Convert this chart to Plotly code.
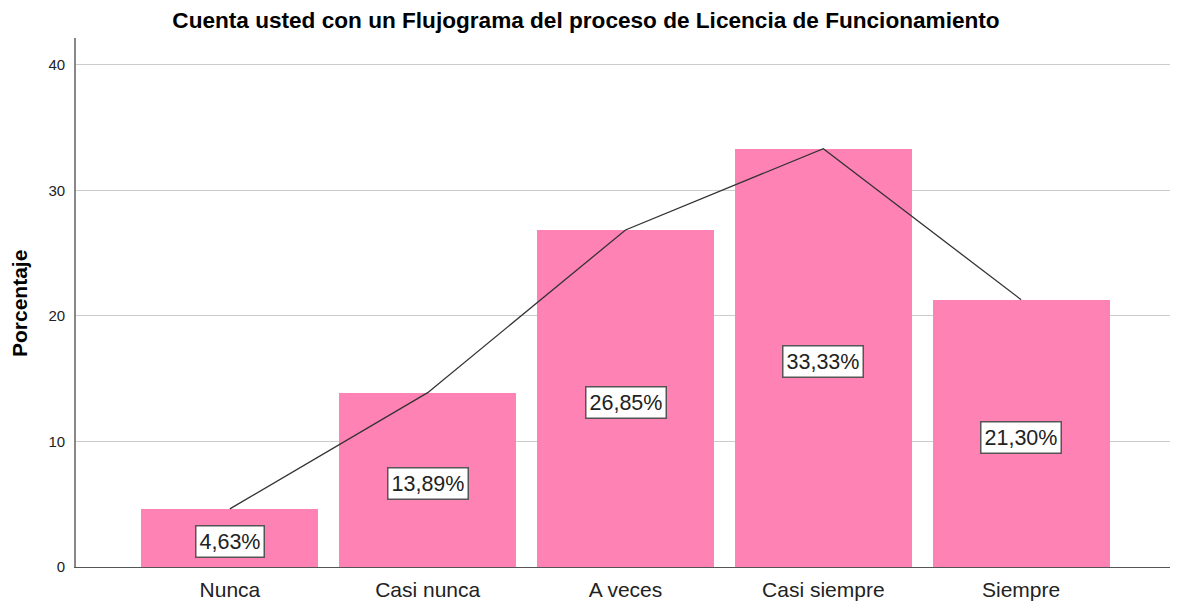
import plotly.graph_objects as go

categories = ["Nunca", "Casi nunca", "A veces", "Casi siempre", "Siempre"]
values = [4.63, 13.89, 26.85, 33.33, 21.30]
labels = ["4,63%", "13,89%", "26,85%", "33,33%", "21,30%"]
y_ticks = [0, 10, 20, 30, 40]

FONT = "Liberation Sans, Arial, sans-serif"
xi = list(range(len(categories)))

fig = go.Figure()
fig.add_trace(go.Bar(x=xi, y=values, width=0.894, marker=dict(color="#FF82B4", line=dict(width=0)),
                     hoverinfo="skip", showlegend=False))
fig.add_trace(go.Scatter(x=xi, y=values, mode="lines", line=dict(color="#333333", width=1.3),
                         hoverinfo="skip", showlegend=False))

for i, (v, lab) in enumerate(zip(values, labels)):
    fig.add_annotation(x=i, y=v / 2, text=lab, showarrow=False, xref="x", yref="y", yshift=-4,
                       font=dict(family=FONT, size=21.5, color="#222222"),
                       bgcolor="#FFFFFF", bordercolor="#555555", borderwidth=1.5, borderpad=3)

fig.add_annotation(text="<b>Porcentaje</b>", xref="paper", yref="paper", x=-0.0519, y=0.499,
                   xanchor="center", yanchor="middle", textangle=-90, showarrow=False,
                   font=dict(family=FONT, size=21, color="#000000"))

fig.update_layout(
    width=1170, height=593,
    margin=dict(l=68, r=3, t=30, b=34),
    paper_bgcolor="#FFFFFF", plot_bgcolor="#FFFFFF",
    bargap=0,
    title=dict(text="<b>Cuenta usted con un Flujograma del proceso de Licencia de Funcionamiento</b>",
               x=0.494, xanchor="center", xref="container", y=0.98, yanchor="middle", yref="container",
               font=dict(family=FONT, size=22.6, color="#000000")),
    xaxis=dict(tickmode="array", tickvals=xi, ticktext=categories, range=[-0.778, 4.778],
               showgrid=False, zeroline=False, showline=True, linecolor="#555555", linewidth=1.2,
               ticks="outside", ticklen=4, tickcolor="rgba(0,0,0,0)", automargin=False,
               tickfont=dict(family=FONT, size=21, color="#222222")),
    yaxis=dict(range=[0, 42.15], tickmode="array", tickvals=y_ticks, showgrid=True,
               gridcolor="#CCCCCC", gridwidth=1.3, zeroline=False, showline=True,
               linecolor="#888888", linewidth=1.8, ticks="outside", ticklen=6,
               tickcolor="rgba(0,0,0,0)", automargin=False,
               tickfont=dict(family=FONT, size=15, color="#222222")),
)

fig.write_html("out.html")
